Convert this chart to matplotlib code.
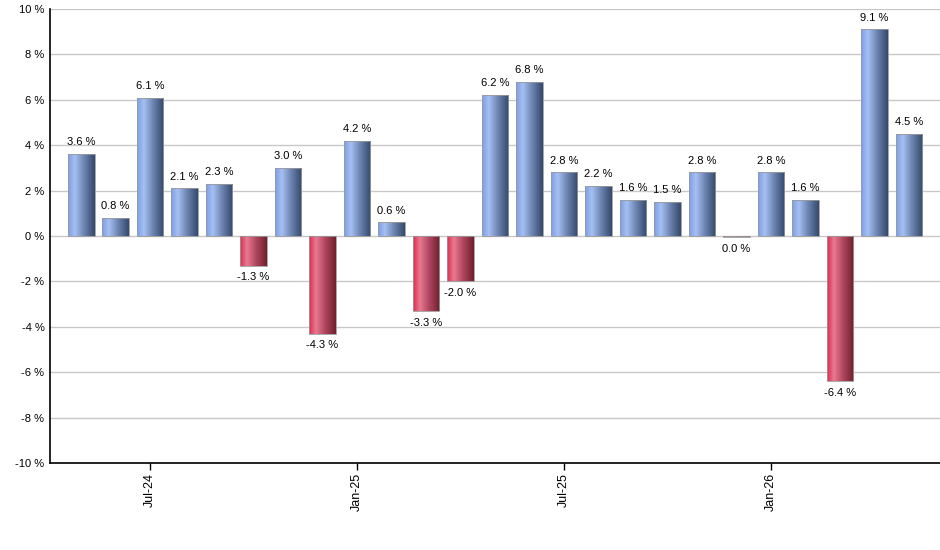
import numpy as np
import matplotlib.pyplot as plt
from matplotlib.colors import LinearSegmentedColormap
from matplotlib.patches import Rectangle

plt.rcParams['font.family'] = ['Liberation Sans', 'DejaVu Sans']

# monthly returns, May-24 .. May-26
months = ['May-24', 'Jun-24', 'Jul-24', 'Aug-24', 'Sep-24', 'Oct-24', 'Nov-24', 'Dec-24',
          'Jan-25', 'Feb-25', 'Mar-25', 'Apr-25', 'May-25', 'Jun-25', 'Jul-25', 'Aug-25',
          'Sep-25', 'Oct-25', 'Nov-25', 'Dec-25', 'Jan-26', 'Feb-26', 'Mar-26', 'Apr-26',
          'May-26']
returns = [3.6, 0.8, 6.1, 2.1, 2.3, -1.3, 3.0, -4.3,
           4.2, 0.6, -3.3, -2.0, 6.2, 6.8, 2.8, 2.2,
           1.6, 1.5, 2.8, -0.04, 2.8, 1.6, -6.4, 9.1,
           4.5]
tick_months = ['Jul-24', 'Jan-25', 'Jul-25', 'Jan-26']

blue_cmap = LinearSegmentedColormap.from_list(
    'b', [(0, '#7a9ee6'), (0.25, '#a6c0f2'), (0.6, '#6c84b0'), (1, '#34496c')])
red_cmap = LinearSegmentedColormap.from_list(
    'r', [(0, '#dc2c4e'), (0.25, '#e87a90'), (0.6, '#b04660'), (1, '#70202c')])

fig = plt.figure(figsize=(9.4, 5.5), dpi=100)
ax = fig.add_axes([50 / 940, 1 - 463 / 550, 890 / 940, 454 / 550])

x = np.arange(len(returns))
width = 0.78
grad = np.linspace(0, 1, 64).reshape(1, -1)
for xi, v in zip(x, returns):
    cmap = blue_cmap if v >= 0 else red_cmap
    y0, y1 = min(0, v), max(0, v)
    im = ax.imshow(grad, cmap=cmap, aspect='auto', extent=(xi - width / 2, xi + width / 2, y0, y1),
                   zorder=3, interpolation='bilinear')
    rect = Rectangle((xi - width / 2, y0), width, y1 - y0, facecolor='none',
                     edgecolor='#9a9a9a', linewidth=0.6, zorder=4)
    ax.add_patch(rect)
    im.set_clip_path(rect)
    lbl = f"{v:.1f}".replace('-0.0', '0.0') + ' %'
    if v >= 0:
        ax.text(xi, v + 0.3, lbl, ha='center', va='bottom', fontsize=8, zorder=5)
    else:
        ax.text(xi, v - 0.3, lbl, ha='center', va='top', fontsize=8, zorder=5)

ax.set_xlim(-0.9, 24.9)
ax.set_ylim(-10, 10)
ax.set_yticks(np.arange(-10, 11, 2))
ax.set_yticklabels([f"{t} %" for t in range(-10, 11, 2)], fontsize=8)
ax.set_xticks([months.index(m) for m in tick_months])
ax.set_xticklabels(tick_months, rotation=90, fontsize=9)
ax.yaxis.grid(True, color='#c8c8c8', linewidth=1, zorder=0)
ax.set_axisbelow(True)
ax.tick_params(axis='y', length=0, pad=4)
ax.tick_params(axis='x', length=5, width=1, color='black', pad=2)
ax.spines['top'].set_visible(False)
ax.spines['right'].set_visible(False)
ax.spines['left'].set_linewidth(1.2)
ax.spines['bottom'].set_linewidth(1.2)

fig.savefig('out.png', dpi=100)
